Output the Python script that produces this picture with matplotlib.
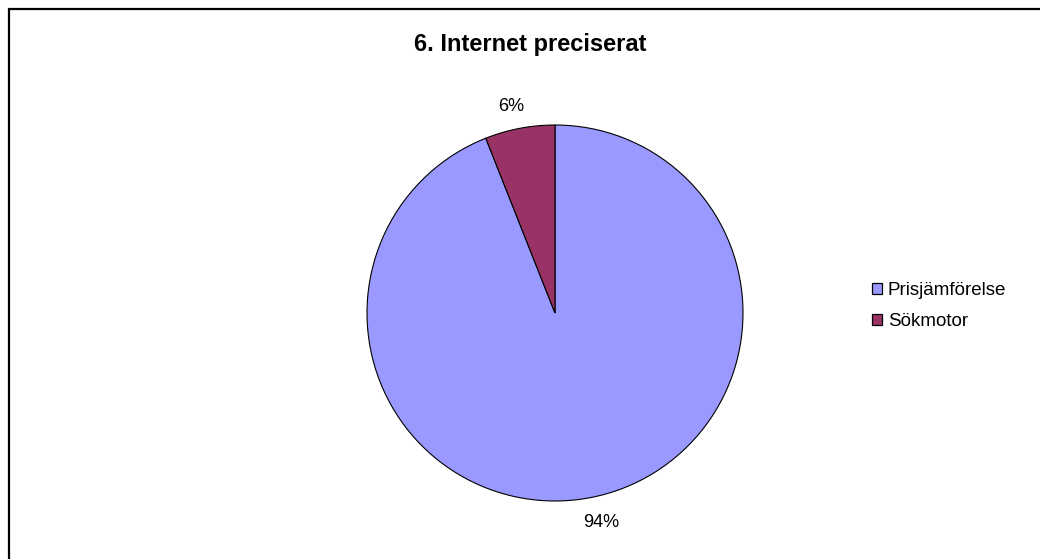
import numpy as np
import matplotlib
matplotlib.use("Agg")
import matplotlib.pyplot as plt
from matplotlib.patches import Patch, Rectangle

plt.rcParams["font.family"] = ["Liberation Sans", "DejaVu Sans"]

# data
kategorier = ["Prisjämförelse", "Sökmotor"]
andelar = [94, 6]
farger = ["#9999FF", "#993366"]
titel = "6. Internet preciserat"

W, H = 1040, 559
fig = plt.figure(figsize=(W / 100, H / 100), dpi=100, facecolor="white")

# pie: centre ~ (555, 313) px, radius ~188 px
cx, cy, r = 555, 313, 188
ax = fig.add_axes([(cx - r) / W, (H - cy - r) / H, 2 * r / W, 2 * r / H])
wedges, texts, autotexts = ax.pie(
    andelar,
    colors=farger,
    startangle=90,
    counterclock=False,
    autopct="%1.0f%%",
    pctdistance=1.13,
    wedgeprops=dict(edgecolor="black", linewidth=0.8),
    textprops=dict(fontsize=13, color="black"),
)
ax.set_aspect("auto")
ax.set_xlim(-1, 1)
ax.set_ylim(-1, 1)

# Excel nudges the labels a bit off the wedge middle
for t, (ang, dist) in zip(autotexts, [(-77.6, 1.14), (101.9, 1.12)]):
    a = np.deg2rad(ang)
    t.set_position((dist * np.cos(a), dist * np.sin(a)))

fig.text(530 / W, 1 - 45 / H, titel, ha="center", va="center",
         fontsize=17, fontweight="bold")

# legend
handles = [Patch(facecolor=c, edgecolor="black", linewidth=0.9) for c in farger]
fig.legend(handles, kategorier, loc="center left",
           bbox_to_anchor=(872 / W, 1 - 306 / H), frameon=False,
           fontsize=13.5, handlelength=0.55, handleheight=0.55,
           handletextpad=0.3, labelspacing=0.75, borderpad=0, borderaxespad=0)

# outer chart border (runs off right/bottom edge)
fig.patches.append(Rectangle((8.5 / W, -0.1), 1.2, 1 - 9.5 / H + 0.1,
                             transform=fig.transFigure, fill=False,
                             edgecolor="black", linewidth=1.6))

fig.savefig("out.png", dpi=100, facecolor="white")
